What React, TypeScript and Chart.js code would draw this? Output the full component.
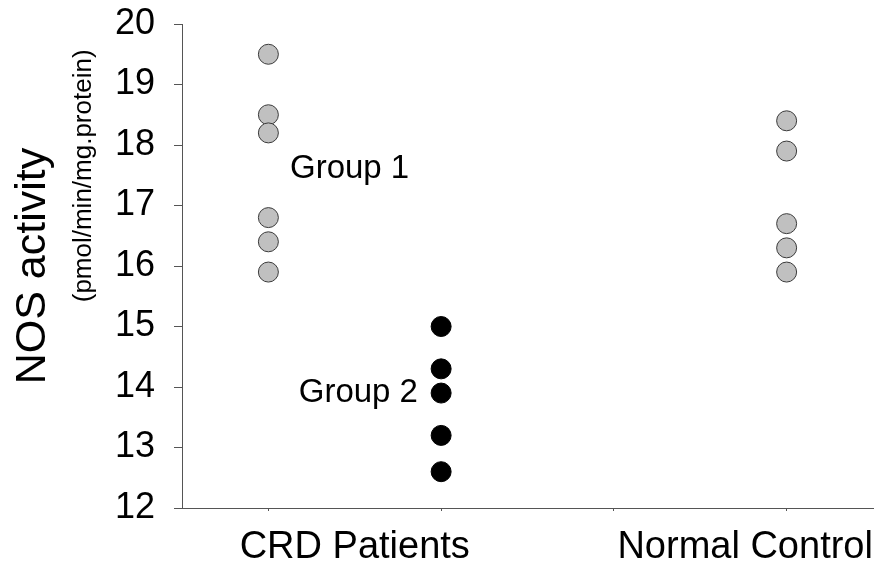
import React, { useEffect, useRef } from "react";
import { Chart, registerables } from "chart.js";

Chart.register(...registerables);

// Measured NOS activity per subject (pmol/min/mg.protein)
const group1Values = [19.5, 18.5, 18.2, 16.8, 16.4, 15.9];
const group2Values = [15.0, 14.3, 13.9, 13.2, 12.6];
const normalValues = [18.4, 17.9, 16.7, 16.3, 15.9];

// Column positions on the x scale
const group1X = 1;
const group2X = 2;
const normalX = 4;

const categories = ["CRD Patients", "Normal Control"];
const groupNames = ["Group 1", "Group 2"];
const yTicks = [12, 13, 14, 15, 16, 17, 18, 19, 20];
const xTicks = [1, 2, 3, 4];

const FONT = "'Liberation Sans', Arial, Helvetica, sans-serif";
const AXIS_COLOR = "#555555";

const labelsPlugin = {
  id: "nosLabels",
  afterDraw(chart: any) {
    const { ctx, scales, chartArea } = chart;
    const xs = scales.x;
    const ys = scales.y;
    ctx.save();
    ctx.fillStyle = "#000";

    // category labels under the x axis
    ctx.font = `38px ${FONT}`;
    ctx.textAlign = "center";
    ctx.textBaseline = "alphabetic";
    ctx.fillText(categories[0], xs.getPixelForValue(1.5), chartArea.bottom + 50);
    ctx.fillText(categories[1], xs.getPixelForValue(3.76), chartArea.bottom + 50);

    // group annotations
    ctx.font = `33px ${FONT}`;
    ctx.textBaseline = "middle";
    ctx.textAlign = "left";
    ctx.fillText(groupNames[0], xs.getPixelForValue(1.125), ys.getPixelForValue(17.6));
    ctx.textAlign = "right";
    ctx.fillText(groupNames[1], xs.getPixelForValue(1.866), ys.getPixelForValue(13.9));

    // y axis titles
    const cy = (chartArea.top + chartArea.bottom) / 2;
    ctx.save();
    ctx.translate(45, cy);
    ctx.rotate(-Math.PI / 2);
    ctx.textAlign = "center";
    ctx.textBaseline = "alphabetic";
    ctx.font = `43px ${FONT}`;
    ctx.fillText("NOS activity", 0, 0);
    ctx.restore();

    ctx.save();
    ctx.translate(91, ys.getPixelForValue(17.49));
    ctx.rotate(-Math.PI / 2);
    ctx.textAlign = "center";
    ctx.textBaseline = "alphabetic";
    ctx.font = `26px ${FONT}`;
    ctx.fillText("(pmol/min/mg.protein)", 0, 0);
    ctx.restore();

    ctx.restore();
  },
};

export default function App() {
  const canvasRef = useRef<HTMLCanvasElement | null>(null);

  useEffect(() => {
    if (!canvasRef.current) return;
    const chart = new Chart(canvasRef.current, {
      type: "scatter",
      data: {
        datasets: [
          {
            label: groupNames[0],
            data: group1Values.map((v) => ({ x: group1X, y: v })),
            pointRadius: 10,
            pointBackgroundColor: "#c0c0c0",
            pointBorderColor: "#3a3a3a",
            pointBorderWidth: 1,
          },
          {
            label: groupNames[1],
            data: group2Values.map((v) => ({ x: group2X, y: v })),
            pointRadius: 10,
            pointBackgroundColor: "#000000",
            pointBorderColor: "#000000",
            pointBorderWidth: 1,
          },
          {
            label: categories[1],
            data: normalValues.map((v) => ({ x: normalX, y: v })),
            pointRadius: 10,
            pointBackgroundColor: "#c0c0c0",
            pointBorderColor: "#3a3a3a",
            pointBorderWidth: 1,
          },
        ],
      },
      options: {
        responsive: false,
        animation: false,
        layout: { autoPadding: false, padding: { top: 24, left: 0, right: 4, bottom: 0 } },
        plugins: {
          legend: { display: false },
          tooltip: { enabled: false },
        },
        scales: {
          x: {
            type: "linear",
            min: 0.5,
            max: 4.5,
            afterBuildTicks: (scale: any) => {
              scale.ticks = xTicks.map((v) => ({ value: v }));
            },
            afterFit: (scale: any) => {
              scale.height = 58;
              scale.paddingLeft = 0;
              scale.paddingRight = 0;
            },
            ticks: { callback: () => "", font: { size: 1 }, padding: 0 },
            grid: {
              drawOnChartArea: false,
              drawTicks: true,
              tickLength: 3,
              color: AXIS_COLOR,
            },
            border: { display: true, color: AXIS_COLOR, width: 1 },
          },
          y: {
            min: 12,
            max: 20,
            afterBuildTicks: (scale: any) => {
              scale.ticks = yTicks.map((v) => ({ value: v }));
            },
            afterFit: (scale: any) => {
              scale.width = 182;
              scale.paddingTop = 0;
              scale.paddingBottom = 0;
            },
            ticks: {
              color: "#000",
              padding: 19,
              font: { size: 36, family: FONT },
            },
            grid: {
              drawOnChartArea: false,
              drawTicks: true,
              tickLength: 8,
              color: AXIS_COLOR,
            },
            border: { display: true, color: AXIS_COLOR, width: 1 },
          },
        },
      },
      plugins: [labelsPlugin],
    });
    return () => chart.destroy();
  }, []);

  return (
    <div style={{ position: "fixed", left: 0, top: 0, width: 877, height: 566, background: "#fff" }}>
      <canvas ref={canvasRef} width={877} height={566} />
    </div>
  );
}
